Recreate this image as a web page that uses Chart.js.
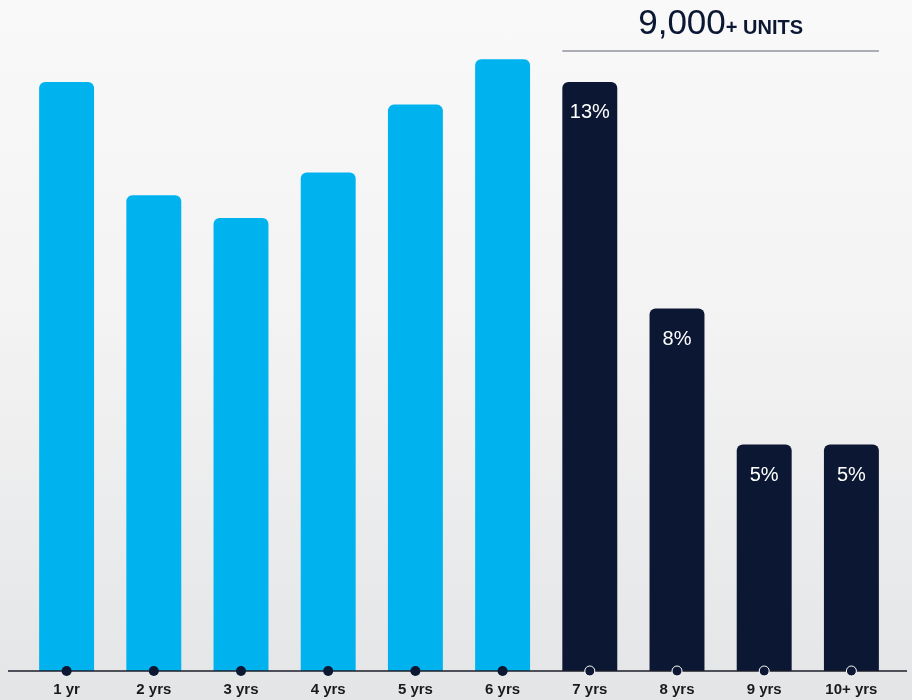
<!DOCTYPE html>
<html>
<head>
<meta charset="utf-8">
<script src="https://cdn.jsdelivr.net/npm/chart.js@4"></script>
<style>
    html, body { margin: 0; padding: 0; }
    body {
        width: 912px;
        height: 700px;
        background: linear-gradient(to bottom, #f9f9f9 0%, #f3f3f4 45%, #e4e5e6 100%);
        font-family: "Liberation Sans", Arial, sans-serif;
    }
    #wrap { position: relative; width: 912px; height: 700px; }
</style>
</head>
<body>
<div id="wrap"><canvas id="ageChart" width="912" height="700"></canvas></div>
<script>
// Vehicle age distribution (share of units, %)
const ages = ["1 yr", "2 yrs", "3 yrs", "4 yrs", "5 yrs", "6 yrs", "7 yrs", "8 yrs", "9 yrs", "10+ yrs"];
const shares = [13, 10.5, 10, 11, 12.5, 13.5, 13, 8, 5, 5];
const shareLabels = ["", "", "", "", "", "", "13%", "8%", "5%", "5%"];
const highlightFrom = 6;
const headerMain = "9,000";
const headerSub = "+ UNITS";

const LIGHT = "#00b3ef";
const DARK = "#0c1733";

// Baseline, category dots, value labels and the header over the highlighted group
const decorations = {
    id: "decorations",
    afterDatasetsDraw(chart) {
        const ctx = chart.ctx;
        const x = chart.scales.x;
        const y = chart.scales.y;
        const base = y.getPixelForValue(0);
        const bars = chart.getDatasetMeta(0).data;

        ctx.save();
        // value labels inside bar tops
        ctx.fillStyle = "#ffffff";
        ctx.font = "20px 'Liberation Sans', Arial, sans-serif";
        ctx.textAlign = "center";
        ctx.textBaseline = "middle";
        bars.forEach((bar, i) => {
            if (shareLabels[i]) ctx.fillText(shareLabels[i], bar.x, bar.y + 31);
        });

        // baseline
        ctx.strokeStyle = "#1b1f2a";
        ctx.lineWidth = 1.5;
        ctx.beginPath();
        ctx.moveTo(8, base);
        ctx.lineTo(907, base);
        ctx.stroke();

        // dots on the baseline
        ages.forEach((_, i) => {
            const cx = x.getPixelForValue(i);
            ctx.beginPath();
            ctx.arc(cx, base, 5, 0, Math.PI * 2);
            ctx.fillStyle = DARK;
            ctx.fill();
            if (i >= highlightFrom) {
                ctx.strokeStyle = "#ffffff";
                ctx.lineWidth = 1;
                ctx.stroke();
            }
        });

        // header over the highlighted group
        const first = bars[highlightFrom];
        const last = bars[bars.length - 1];
        const left = first.x - first.width / 2;
        const right = last.x + last.width / 2;
        const mid = (left + right) / 2;

        ctx.strokeStyle = "#5d6270";
        ctx.lineWidth = 1.2;
        ctx.beginPath();
        ctx.moveTo(left, 51);
        ctx.lineTo(right, 51);
        ctx.stroke();

        ctx.fillStyle = DARK;
        ctx.textBaseline = "alphabetic";
        ctx.textAlign = "left";
        const bigFont = "35px 'Liberation Sans', Arial, sans-serif";
        const smallFont = "bold 20px 'Liberation Sans', Arial, sans-serif";
        ctx.font = bigFont;
        const w1 = ctx.measureText(headerMain).width;
        ctx.font = smallFont;
        const w2 = ctx.measureText(headerSub).width;
        const start = mid - (w1 + w2) / 2;
        ctx.font = bigFont;
        ctx.fillText(headerMain, start, 34);
        ctx.font = smallFont;
        ctx.fillText(headerSub, start + w1, 34);
        ctx.restore();
    }
};

const ctx = document.getElementById("ageChart").getContext("2d");
new Chart(ctx, {
    type: "bar",
    data: {
        labels: ages,
        datasets: [
            {
                data: shares,
                backgroundColor: shares.map((_, i) => (i >= highlightFrom ? DARK : LIGHT)),
                borderRadius: { topLeft: 6, topRight: 6, bottomLeft: 0, bottomRight: 0 },
                borderSkipped: false,
                barPercentage: 0.63,
                categoryPercentage: 1
            }
        ]
    },
    options: {
        responsive: false,
        animation: false,
        layout: { padding: { left: 23, right: 17, top: 14, bottom: 0 } },
        plugins: {
            legend: { display: false },
            tooltip: { enabled: false }
        },
        scales: {
            x: {
                grid: { display: false },
                border: { display: false },
                afterFit(scale) {
                    scale.height = 29;
                },
                ticks: {
                    color: "#1a1a1a",
                    padding: 2,
                    font: { family: "'Liberation Sans', Arial, sans-serif", size: 15, weight: "bold" }
                }
            },
            y: {
                display: false,
                min: 0,
                max: 14.5
            }
        }
    },
    plugins: [decorations]
});
</script>
</body>
</html>
